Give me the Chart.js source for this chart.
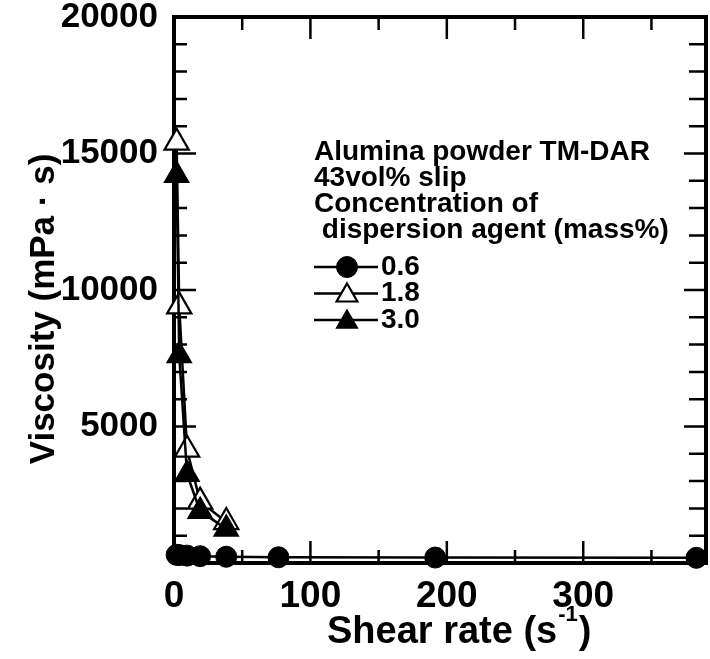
<!DOCTYPE html>
<html><head><meta charset="utf-8">
<script src="https://cdn.jsdelivr.net/npm/chart.js@4/dist/chart.umd.min.js"></script>
<style>html,body{margin:0;padding:0;background:#fff;overflow:hidden}#wrap{width:710px;height:659px;position:relative}canvas{display:block}</style>
</head><body><div id="wrap"><canvas id="c"></canvas></div>
<script>
// ---- data ----
const shear06 = [1.92, 3.83, 9.58, 19.15, 38.3, 76.6, 191.5, 383];
const visc06  = [300, 290, 270, 250, 230, 210, 200, 190];
const shear18 = [1.92, 3.83, 9.58, 19.15, 38.3];
const visc18  = [15400, 9400, 4150, 2250, 1500];
const shear30 = [1.92, 3.83, 9.58, 19.15, 38.3];
const visc30  = [14200, 7600, 3250, 1900, 1250];
const seriesLabels = ['0.6', '1.8', '3.0'];
const xTickLabels = [0, 100, 200, 300];
const yTickLabels = [5000, 10000, 15000, 20000];
const legendTitleLines = ['Alumina powder TM-DAR', '43vol% slip', 'Concentration of', ' dispersion agent (mass%)'];
const xTitleMain = 'Shear rate (s';
const xTitleSup = '-1';
const xTitleEnd = ')';
const yTitle = 'Viscosity (mPa \u00b7 s)';

const FONT = '"Liberation Sans", Arial, Helvetica, sans-serif';

function pts(xs, ys){ return xs.map((x,i)=>({x:x, y:ys[i]})); }

const dsStyles = [
  {pointStyle:'circle', pointRadius:10.5, pointBackgroundColor:'#000', pointBorderColor:'#000', pointBorderWidth:1},
  {pointStyle:'triangle', pointRadius:14, pointBackgroundColor:'#fff', pointBorderColor:'#000', pointBorderWidth:2.2},
  {pointStyle:'triangle', pointRadius:14, pointBackgroundColor:'#000', pointBorderColor:'#000', pointBorderWidth:1.5}
];

const framePlugin = {
  id:'frame',
  beforeDatasetsDraw(chart){
    const {ctx, chartArea:a, scales:{x, y}} = chart;
    ctx.save();
    ctx.strokeStyle = '#000';
    ctx.lineWidth = 2.5;
    for (let v = 1000; v < 20000; v += 1000){
      const py = y.getPixelForValue(v);
      const major = v % 5000 === 0;
      ctx.beginPath();
      ctx.moveTo(a.left, py); ctx.lineTo(a.left + (major ? 22 : 13), py);
      ctx.moveTo(a.right, py); ctx.lineTo(a.right - (major ? 22 : 17), py);
      ctx.stroke();
    }
    for (let v = 50; v < 390; v += 50){
      const px = x.getPixelForValue(v);
      const major = v % 100 === 0;
      ctx.beginPath();
      ctx.moveTo(px, a.top); ctx.lineTo(px, a.top + (major ? 22 : 13));
      ctx.moveTo(px, a.bottom); ctx.lineTo(px, a.bottom - (major ? 22 : 13));
      ctx.stroke();
    }
    ctx.lineWidth = 4;
    ctx.strokeRect(a.left, a.top, a.right - a.left, a.bottom - a.top);
    ctx.restore();
  },
  afterDraw(chart){
    const {ctx} = chart;
    ctx.save();
    ctx.fillStyle = '#000';
    ctx.font = 'bold 35px ' + FONT;
    ctx.translate(44, 309);
    ctx.rotate(-Math.PI/2);
    ctx.textAlign = 'center';
    ctx.textBaseline = 'middle';
    ctx.fillText(yTitle, 0, 0);
    ctx.restore();
    ctx.save();
    ctx.fillStyle = '#000';
    ctx.textBaseline = 'alphabetic';
    ctx.textAlign = 'left';
    ctx.font = 'bold 38px ' + FONT;
    let xx = 327, base = 643;
    ctx.fillText(xTitleMain, xx, base);
    xx += ctx.measureText(xTitleMain).width;
    ctx.font = 'bold 22px ' + FONT;
    ctx.fillText(xTitleSup, xx + 1, base - 22);
    xx += ctx.measureText(xTitleSup).width + 2;
    ctx.font = 'bold 38px ' + FONT;
    ctx.fillText(xTitleEnd, xx, base);
    ctx.restore();
    ctx.save();
    ctx.fillStyle = '#000';
    ctx.font = 'bold 28px ' + FONT;
    ctx.textAlign = 'left';
    ctx.textBaseline = 'middle';
    legendTitleLines.forEach((t, i) => ctx.fillText(t, 314, 152 + i * 26));
    chart.data.datasets.forEach((ds, i) => {
      const cy = 267 + i * 26.5;
      ctx.strokeStyle = '#000';
      ctx.lineWidth = 2.5;
      ctx.beginPath(); ctx.moveTo(314, cy); ctx.lineTo(378, cy); ctx.stroke();
      ctx.fillStyle = ds.pointBackgroundColor;
      ctx.strokeStyle = ds.pointBorderColor;
      ctx.lineWidth = ds.pointBorderWidth;
      Chart.helpers.drawPoint(ctx, {pointStyle: ds.pointStyle, radius: ds.pointStyle === 'circle' ? 10.5 : 12, rotation: 0, borderWidth: ds.pointBorderWidth}, 347, cy + (ds.pointStyle==='triangle'?2:0));
      ctx.fillStyle = '#000';
      ctx.fillText(ds.label, 381, cy);
    });
    ctx.restore();
  }
};

new Chart(document.getElementById('c'), {
  type: 'scatter',
  data: {
    datasets: [
      Object.assign({label: seriesLabels[0], data: pts(shear06, visc06), order: 0}, dsStyles[0]),
      Object.assign({label: seriesLabels[1], data: pts(shear18, visc18), order: 2}, dsStyles[1]),
      Object.assign({label: seriesLabels[2], data: pts(shear30, visc30), order: 1}, dsStyles[2])
    ].map(d => Object.assign(d, {showLine: true, borderColor: '#000', borderWidth: 2.5, tension: 0, clip: 14}))
  },
  options: {
    responsive: true, maintainAspectRatio: false, animation: false,
    layout: {autoPadding: false, padding: {top: 17, right: 4, left: 0, bottom: 0}},
    plugins: {legend: {display: false}, tooltip: {enabled: false}},
    scales: {
      x: {
        type: 'linear', min: 0, max: 390,
        grid: {display: false, drawTicks: false},
        border: {display: false},
        afterBuildTicks: s => { s.ticks = xTickLabels.map(v => ({value: v})); },
        afterFit: s => { s.height = 96; s.paddingLeft = 0; s.paddingRight = 0; },
        ticks: {color: '#000', padding: 12, maxRotation: 0, autoSkip: false,
          callback: v => String(v),
          font: {family: FONT, size: 37, weight: 'bold'}}
      },
      y: {
        type: 'linear', min: 0, max: 20000,
        grid: {display: false, drawTicks: false},
        border: {display: false},
        afterBuildTicks: s => { s.ticks = yTickLabels.map(v => ({value: v})); },
        afterFit: s => { s.width = 174; s.paddingTop = 0; s.paddingBottom = 0; },
        ticks: {color: '#000', padding: 16, autoSkip: false,
          callback: v => String(v),
          font: {family: FONT, size: 35, weight: 'bold'}}
      }
    }
  },
  plugins: [framePlugin]
});
</script>
</body></html>
